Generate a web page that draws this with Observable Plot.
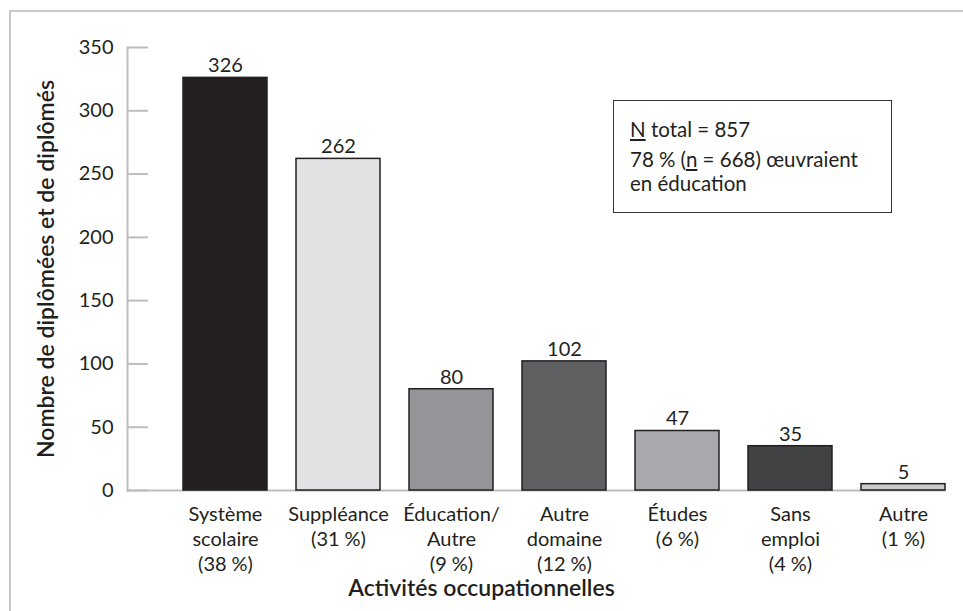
<!DOCTYPE html>
<html>
<head>
<meta charset="utf-8">
<script src="https://cdn.jsdelivr.net/npm/d3@7"></script>
<script src="https://cdn.jsdelivr.net/npm/@observablehq/plot@0.6"></script>
<style>
  html, body { margin: 0; padding: 0; background: #fff; overflow: hidden; width: 963px; height: 611px; font-family: Lato, sans-serif; color: #231f20; }
  #wrap { position: relative; width: 963px; height: 611px; overflow: hidden; }
  #outer { position: absolute; left: 9px; top: 10px; width: 2000px; height: 2000px; border: 2.5px solid #c8c8c8; pointer-events: none; z-index: 3; }
  #note { position: absolute; left: 613px; top: 100px; width: 277px; height: 111px; border: 1.5px solid #333; background: #fff; z-index: 2; font-size: 20.5px; }
  #note div { position: absolute; left: 16px; white-space: nowrap; line-height: 24px; }
  #xtitle { position: absolute; left: 0; top: 575px; width: 963px; text-align: center; font-weight: 600; font-size: 23px; line-height: 24px; }
  svg { display: block; }
</style>
</head>
<body>
<div id="wrap">
  <div id="chart"></div>
  <div id="note">
    <div id="l1" style="top:16px"><u>N</u> total = 857</div>
    <div id="l2" style="top:46px">78&#8239;% (<u>n</u> = 668) œuvraient</div>
    <div id="l3" style="top:70px">en éducation</div>
  </div>
  <div id="xtitle">Activités occupationnelles</div>
  <div id="outer"></div>
</div>
<script>
const tickLabels = [
  "Système\nscolaire\n(38\u202F%)",
  "Suppléance\n(31\u202F%)",
  "Éducation/\nAutre\n(9\u202F%)",
  "Autre\ndomaine\n(12\u202F%)",
  "Études\n(6\u202F%)",
  "Sans\nemploi\n(4\u202F%)",
  "Autre\n(1\u202F%)"
];
const counts = [326, 262, 80, 102, 47, 35, 5];
const barColors = ["#231f20", "#e1e2e3", "#939598", "#5f6062", "#a7a9ac", "#414244", "#c8cacb"];
const yTicks = [0, 50, 100, 150, 200, 250, 300, 350];
const yTitle = "Nombre de diplômées et de diplômés";

const data = tickLabels.map((label, i) => ({label, count: counts[i], color: barColors[i]}));

const chart = Plot.plot({
  width: 963,
  height: 576,
  marginLeft: 127,
  marginRight: 18,
  marginTop: 47,
  marginBottom: 86,
  style: {fontFamily: "Lato, sans-serif", fontSize: "20px", color: "#231f20", background: "transparent"},
  x: {domain: tickLabels, paddingInner: 0.2588, paddingOuter: 0.238, align: 1, label: null},
  y: {domain: [0, 350], label: null},
  color: {type: "identity"},
  marks: [
    Plot.frame({anchor: "left", stroke: "#bdbdbd", strokeWidth: 2}),
    Plot.axisY({ticks: yTicks, tickSize: -21, fill: "none", stroke: "#bdbdbd", strokeWidth: 2, label: null}),
    Plot.axisY({ticks: yTicks, tickSize: 0, tickPadding: 14, fill: "#231f20", label: null}),
    Plot.axisX({tickSize: 0, tickPadding: 13, lineHeight: 1.25, fill: "#231f20", label: null}),
    Plot.ruleY([0], {stroke: "#bdbdbd", strokeWidth: 2}),
    Plot.barY(data, {x: "label", y: "count", fill: "color", stroke: "#231f20", strokeWidth: 1.5}),
    Plot.text(data, {x: "label", y: "count", text: d => String(d.count), dy: -12, fill: "#231f20"}),
    Plot.text([yTitle], {frameAnchor: "left", textAnchor: "middle", rotate: -90, dx: -81, text: d => d, fontSize: 23, fontWeight: 600, fill: "#231f20"})
  ]
});
document.getElementById("chart").appendChild(chart);
</script>
</body>
</html>
